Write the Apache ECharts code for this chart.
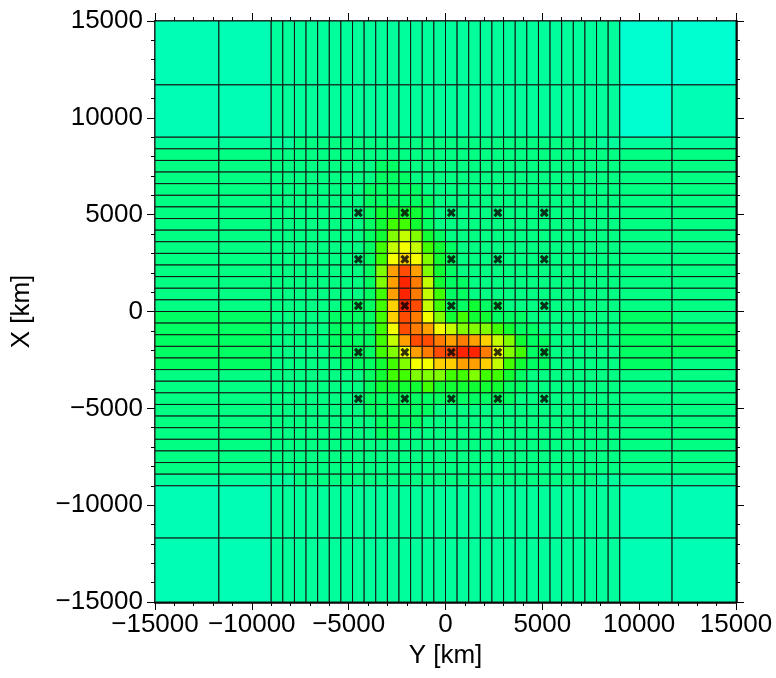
<!DOCTYPE html>
<html>
<head>
<meta charset="utf-8">
<title>Grid</title>
<script src="https://cdn.jsdelivr.net/npm/echarts@6/dist/echarts.min.js"></script>
<style>
  html, body { margin: 0; padding: 0; background: #fff; }
  #chart { width: 776px; height: 678px; }
</style>
</head>
<body>
<div id="chart"></div>
<script>
// cell edges in km (same mesh on both axes)
var cellEdges = [-15000, -11700, -9000, -8400, -7800, -7200, -6600, -6000, -5400, -4800,
  -4200, -3600, -3000, -2400, -1800, -1200, -600, 0, 600, 1200, 1800, 2400, 3000, 3600,
  4200, 4800, 5400, 6000, 6600, 7200, 7800, 8400, 9000, 11700, 15000]

// colour level of each cell (hex digit), one row per string, top row (X high) first,
// columns left to right in Y; spaces only group the columns for reading
var levelRows = [
  '11 2222222 2222222 2222222222222222 00',
  '11 2222222 2222222 2222222222222222 01',
  '22 2233333 3333333 3333333333333322 22',
  '33 3333333 3333333 3333333333333333 33',
  '33 3333333 3344333 3333333333333333 33',
  '33 3333333 3344433 3333333333333333 33',
  '33 3333333 3444443 3333333333333333 33',
  '33 3333333 3444444 3333333333333333 33',
  '33 3333333 3455554 3333333333333333 33',
  '33 3333333 3456654 3333333333333333 33',
  '33 3333333 3457875 4333333333333333 33',
  '33 3333333 3468986 5433333333333333 33',
  '33 3333333 3469A97 5433333333333333 33',
  '33 3333333 347BDB7 5433333333333333 33',
  '33 3333333 347BEC8 5443333333333333 33',
  '33 3333333 346BEC8 6443333333333333 33',
  '33 3333334 446AED8 6445443333333333 33',
  '44 3333344 446ADC9 7565544433333333 43',
  '44 3333344 4469DCB 9877765443333333 44',
  '44 3333344 4468BDD CBCBA87544333333 44',
  '44 3333344 44679BC DDEEC97644333333 44',
  '44 3333334 4456799 AABBA86544333333 43',
  '33 3333333 3456677 7667665433333333 33',
  '33 3333333 3455556 5555554433333333 33',
  '33 3333333 3444444 4444444333333333 33',
  '33 3333333 3444444 3333333333333333 33',
  '33 3333333 3344443 3333333333333333 33',
  '33 3333333 3344333 3333333333333333 33',
  '33 3333333 3333333 3333333333333333 33',
  '33 3333333 3333333 3333333333333333 33',
  '33 3333333 3333333 3333333333333333 33',
  '22 2233333 3333333 3333333333333322 22',
  '11 2222222 2222222 2222222222222222 11',
  '11 2222222 2222222 2222222222222222 11'
]

var levelColors = ['#00ffd0', '#00ffb4', '#00ff9c', '#00ff82', '#00ff62', '#10ff34',
  '#40ff00', '#80ff00', '#c4ff00', '#f4ff00', '#ffd000', '#ffa000', '#ff7c00',
  '#ff4c00', '#ff2400']

// station marks (km)
var stationY = [-4500, -2100, 300, 2700, 5100]
var stationX = [-4500, -2100, 300, 2700, 5100]

var tickValues = [-15000, -10000, -5000, 0, 5000, 10000, 15000]

var fontFamily = '"Liberation Sans", Arial, Helvetica, sans-serif'

var cells = []
var n = cellEdges.length - 1
for (var i = 0; i < n; i++) {
  var row = levelRows[i].replace(/ /g, '')
  // rows run from the top, so the X range counts down
  var x1 = cellEdges[n - i]
  var x0 = cellEdges[n - i - 1]
  for (var j = 0; j < n; j++) {
    cells.push([cellEdges[j], cellEdges[j + 1], x0, x1, parseInt(row.charAt(j), 16)])
  }
}

var stations = []
stationX.forEach(function(x) {
  stationY.forEach(function(y) {
    stations.push([y, x])
  })
})

function minusSign(v) {
  return String(v).replace('-', '\u2212')
}

function axisBase(extra) {
  var a = {
    type: 'value',
    min: tickValues[0],
    max: tickValues[tickValues.length - 1],
    interval: 5000,
    axisLine: { onZero: false, lineStyle: { color: '#000', width: 2.5 } },
    axisTick: { show: true, inside: false, length: 8, lineStyle: { color: '#000', width: 1 } },
    minorTick: { show: true, splitNumber: 5, length: 4, lineStyle: { color: '#000', width: 1 } },
    splitLine: { show: false },
    axisLabel: { show: false }
  }
  for (var k in extra) a[k] = extra[k]
  return a
}

var chart = echarts.init(document.getElementById('chart'))
chart.setOption({
  animation: false,
  backgroundColor: '#fff',
  grid: { left: 155, top: 21, width: 581, height: 581 },
  xAxis: [
    axisBase({
      position: 'bottom',
      name: 'Y [km]',
      nameLocation: 'middle',
      nameGap: 40,
      nameTextStyle: { fontSize: 26, color: '#000', fontFamily: fontFamily },
      axisLabel: { show: true, fontSize: 26, color: '#000', margin: 10, fontFamily: fontFamily, formatter: minusSign }
    }),
    axisBase({ position: 'top' })
  ],
  yAxis: [
    axisBase({
      position: 'left',
      name: 'X [km]',
      nameLocation: 'middle',
      nameGap: 120,
      nameTextStyle: { fontSize: 26, color: '#000', fontFamily: fontFamily },
      axisLabel: { show: true, fontSize: 26, color: '#000', margin: 12, fontFamily: fontFamily, formatter: minusSign }
    }),
    axisBase({ position: 'right' })
  ],
  visualMap: {
    show: false,
    type: 'continuous',
    seriesIndex: 0,
    dimension: 4,
    min: 0,
    max: levelColors.length - 1,
    inRange: { color: levelColors }
  },
  series: [
    {
      type: 'custom',
      xAxisIndex: 0,
      yAxisIndex: 0,
      encode: { x: [0, 1], y: [2, 3] },
      data: cells,
      renderItem: function(params, api) {
        var p0 = api.coord([api.value(0), api.value(3)])
        var p1 = api.coord([api.value(1), api.value(2)])
        return {
          type: 'rect',
          shape: { x: p0[0], y: p0[1], width: p1[0] - p0[0], height: p1[1] - p0[1] },
          style: { fill: api.visual('color'), stroke: '#141414', lineWidth: 1 }
        }
      }
    },
    {
      type: 'scatter',
      xAxisIndex: 0,
      yAxisIndex: 0,
      symbol: 'path://M2.5,0L5,2.5L7.5,0L10,2.5L7.5,5L10,7.5L7.5,10L5,7.5L2.5,10L0,7.5L2.5,5L0,2.5Z',
      symbolSize: 9,
      itemStyle: { color: '#000' },
      data: stations,
      z: 5
    }
  ]
})
</script>
</body>
</html>
